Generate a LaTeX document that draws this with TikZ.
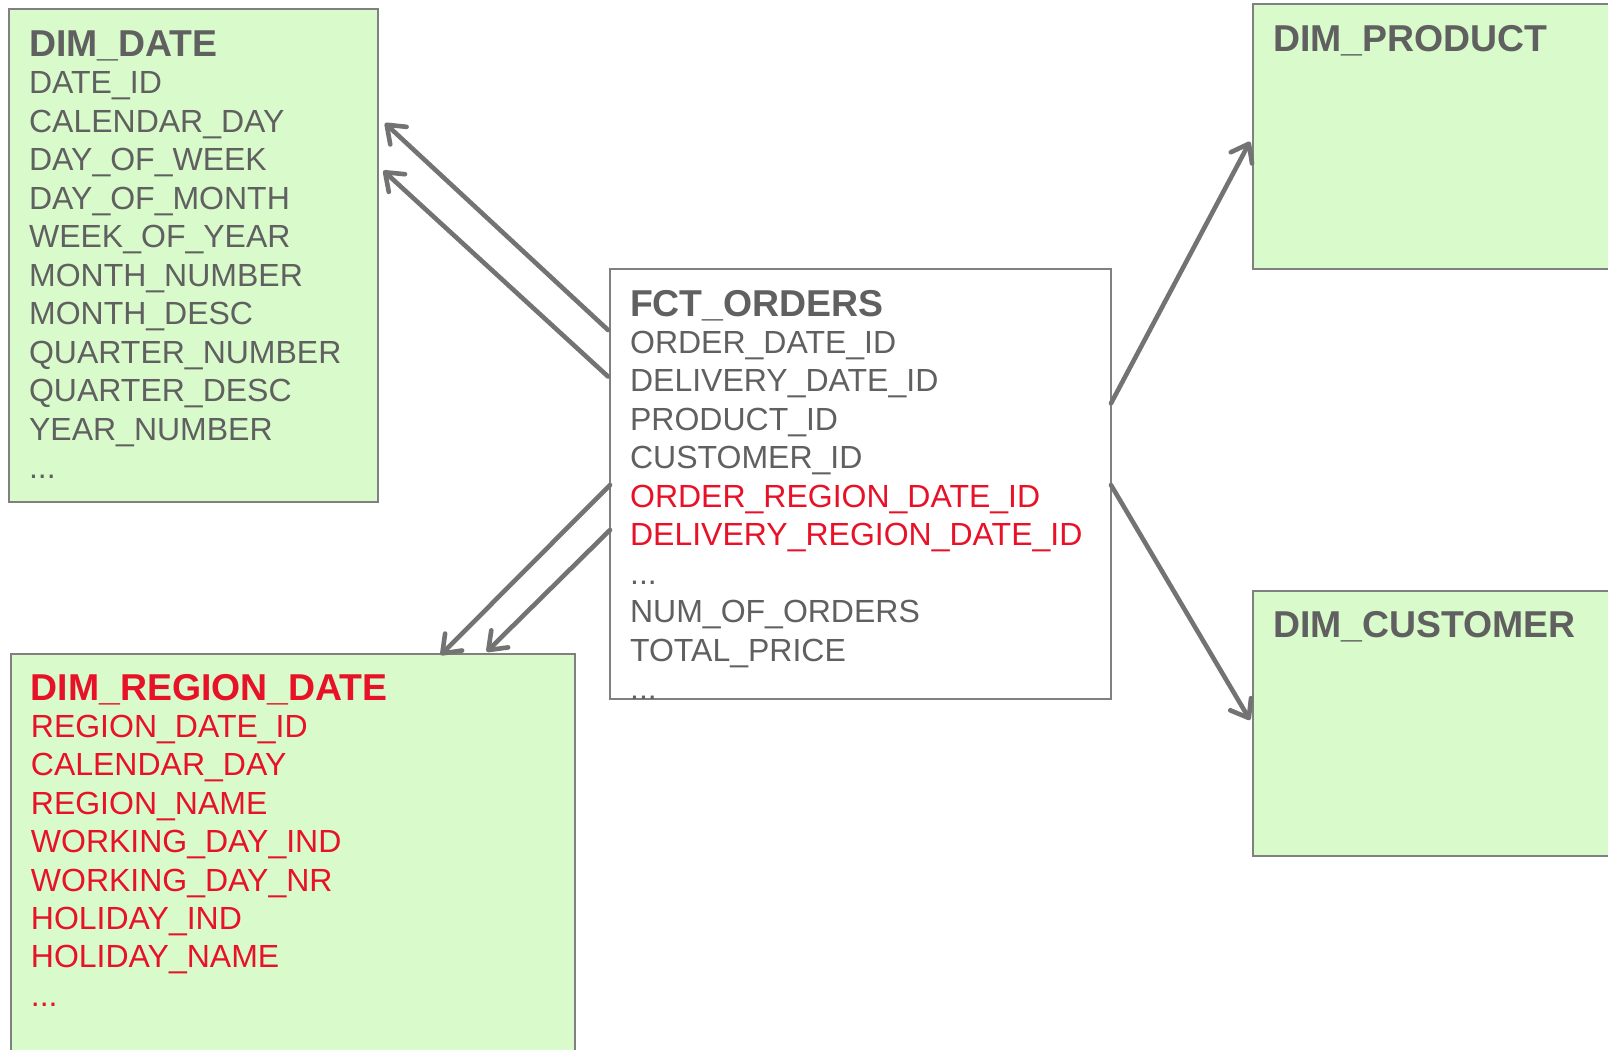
\documentclass[tikz,border=0pt]{standalone}
\usepackage{fontspec}
\setmainfont{Liberation Sans}
\usetikzlibrary{arrows.meta,calc}
\definecolor{boxgreen}{RGB}{217,250,203}
\definecolor{boxline}{RGB}{128,128,128}
\definecolor{txtgray}{RGB}{96,96,96}
\definecolor{txtred}{RGB}{232,18,40}
\definecolor{arrgray}{RGB}{115,115,115}
\begin{document}
\begin{tikzpicture}[x=0.5pt,y=-0.5pt,
  tbl/.style={rectangle, draw=boxline, line width=1pt, anchor=north west, inner sep=0pt, outer sep=0pt},
  dimbox/.style={tbl, fill=boxgreen},
  fctbox/.style={tbl, fill=white},
  ttl/.style={anchor=base west, inner sep=0pt, font=\fontsize{18.7}{22}\selectfont\bfseries, text=txtgray},
  redttl/.style={ttl, text=txtred},
  row/.style={anchor=base west, inner sep=0pt, font=\fontsize{16}{19}\selectfont, text=txtgray},
  redrow/.style={row, text=txtred},
  link/.style={draw=arrgray, line width=2.3pt, line cap=round, -{Straight Barb[length=8pt,width=12pt,line cap=round,line join=round]}}]
\clip (0,0) rectangle (1608,1050);
\fill[white] (0,0) rectangle (1608,1050);

% DIM_DATE
\node[dimbox, minimum width=184.6pt, minimum height=246.6pt] (date) at (9.2,9.2) {};
\node[ttl] (date-t) at (28.7,56) {DIM\_DATE};
\foreach \t [count=\i] in {DATE\_ID,CALENDAR\_DAY,DAY\_OF\_WEEK,DAY\_OF\_MONTH,WEEK\_OF\_YEAR,MONTH\_NUMBER,MONTH\_DESC,QUARTER\_NUMBER,QUARTER\_DESC,YEAR\_NUMBER}
  \node[row] (date-\i) at (28.7,{93.5+38.5*(\i-1)}) {\t};
\node[row] (date-dots) at (28.7,478.5) {...};

% FCT_ORDERS
\node[fctbox, minimum width=250.5pt, minimum height=215pt] (fct) at (610,268.5) {};
\node[ttl] (fct-t) at (629.7,316.4) {FCT\_ORDERS};
\node[row] (fct-1) at (629.7,353) {ORDER\_DATE\_ID};
\node[row] (fct-2) at (629.7,391.5) {DELIVERY\_DATE\_ID};
\node[row] (fct-3) at (629.7,430) {PRODUCT\_ID};
\node[row] (fct-4) at (629.7,468.5) {CUSTOMER\_ID};
\node[redrow] (fct-5) at (629.7,507) {ORDER\_REGION\_DATE\_ID};
\node[redrow] (fct-6) at (629.7,545.5) {DELIVERY\_REGION\_DATE\_ID};
\node[row] (fct-7) at (629.7,584) {...};
\node[row] (fct-8) at (629.7,622.5) {NUM\_OF\_ORDERS};
\node[row] (fct-9) at (629.7,661) {TOTAL\_PRICE};
\node[row] (fct-10) at (629.7,699.5) {...};

% DIM_REGION_DATE
\node[dimbox, minimum width=282pt, minimum height=220pt] (region) at (11.3,654.3) {};
\node[redttl] (region-t) at (30.5,700) {DIM\_REGION\_DATE};
\foreach \t [count=\i] in {REGION\_DATE\_ID,CALENDAR\_DAY,REGION\_NAME,WORKING\_DAY\_IND,WORKING\_DAY\_NR,HOLIDAY\_IND,HOLIDAY\_NAME}
  \node[redrow] (region-\i) at (30.5,{737.5+38.4*(\i-1)}) {\t};
\node[redrow] (region-dots) at (30.5,1006.3) {...};

% DIM_PRODUCT
\node[dimbox, minimum width=200pt, minimum height=132.5pt] (product) at (1252.5,4) {};
\node[ttl] (product-t) at (1272.6,51) {DIM\_PRODUCT};

% DIM_CUSTOMER
\node[dimbox, minimum width=200pt, minimum height=132.5pt] (customer) at (1252.5,591) {};
\node[ttl] (customer-t) at (1272.6,637.4) {DIM\_CUSTOMER};

% connectors
\draw[link] ($(fct.north west)+(-2,61.5)$) -- ($(date.north east)+(6.6,114)$);
\draw[link] ($(fct.north west)+(-2,108)$) -- ($(date.north east)+(5,161.5)$);
\draw[link] ($(fct.north west)+(0,216.5)$) -- ($(region.north west)+(429.4,0.7)$);
\draw[link] ($(fct.north west)+(0,261.5)$) -- ($(region.north west)+(475.4,-2.6)$);
\draw[link] ($(fct.north east)+(0,134.8)$) -- ($(product.north west)+(-2.5,137.7)$);
\draw[link] ($(fct.north east)+(0,216.5)$) -- ($(customer.north west)+(-2.5,129)$);
\end{tikzpicture}
\end{document}
